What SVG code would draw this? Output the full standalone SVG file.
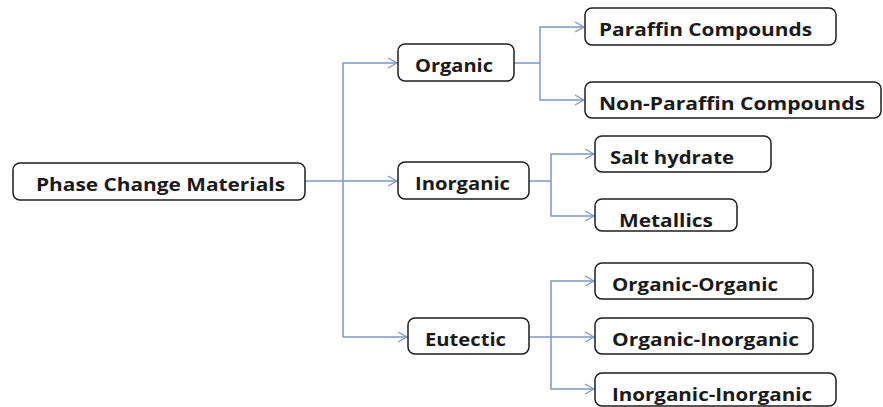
<svg xmlns="http://www.w3.org/2000/svg" width="883" height="407" viewBox="0 0 883 407">
<style>
.box{fill:#ffffff;stroke:#1e1e1e;stroke-width:1.5}
.lbl{font-family:"Open Sans","Liberation Sans",sans-serif;font-weight:bold;font-size:18px;fill:#1a1a1a}
.cn{fill:none;stroke:#7f97c4;stroke-width:1.5}
</style>
<defs>
<marker id="arr" markerUnits="userSpaceOnUse" markerWidth="12" markerHeight="14" viewBox="-1 -7 12 14" refX="9" refY="0" orient="auto">
<path d="M0,-5 L9,0 L0,5" fill="none" stroke="#7f97c4" stroke-width="1.3"/>
</marker>
</defs>
<rect width="883" height="407" fill="#ffffff"/>
<g id="connectors">
<path class="cn" d="M305,181 H397" marker-end="url(#arr)"/>
<path class="cn" d="M343,337 V63 H397" marker-end="url(#arr)"/>
<path class="cn" d="M343,337 H407" marker-end="url(#arr)"/>
<path class="cn" d="M514,63 H540"/>
<path class="cn" d="M540,63 V27 H584" marker-end="url(#arr)"/>
<path class="cn" d="M540,63 V100 H584" marker-end="url(#arr)"/>
<path class="cn" d="M529,181 H551"/>
<path class="cn" d="M551,181 V154 H594" marker-end="url(#arr)"/>
<path class="cn" d="M551,181 V216 H594" marker-end="url(#arr)"/>
<path class="cn" d="M529,337 H594" marker-end="url(#arr)"/>
<path class="cn" d="M551,337 V281 H594" marker-end="url(#arr)"/>
<path class="cn" d="M551,337 V389 H594" marker-end="url(#arr)"/>
</g>
<g id="pcm"><rect class="box" x="13" y="163" width="292" height="37" rx="7"/><text class="lbl" x="36" y="191" textLength="249" lengthAdjust="spacingAndGlyphs">Phase Change Materials</text></g>
<g id="organic"><rect class="box" x="398" y="44" width="116" height="37" rx="7"/><text class="lbl" x="415" y="72" textLength="78" lengthAdjust="spacingAndGlyphs">Organic</text></g>
<g id="inorganic"><rect class="box" x="398" y="162" width="131" height="37" rx="7"/><text class="lbl" x="415" y="190" textLength="95" lengthAdjust="spacingAndGlyphs">Inorganic</text></g>
<g id="eutectic"><rect class="box" x="408" y="318" width="121" height="36" rx="7"/><text class="lbl" x="425" y="346" textLength="81" lengthAdjust="spacingAndGlyphs">Eutectic</text></g>
<g id="paraffin"><rect class="box" x="585" y="8" width="251" height="37" rx="7"/><text class="lbl" x="599" y="36" textLength="213" lengthAdjust="spacingAndGlyphs">Paraffin Compounds</text></g>
<g id="nonparaffin"><rect class="box" x="585" y="82" width="296" height="36" rx="7"/><text class="lbl" x="599" y="110" textLength="266" lengthAdjust="spacingAndGlyphs">Non-Paraffin Compounds</text></g>
<g id="salthydrate"><rect class="box" x="595" y="136" width="176" height="36" rx="7"/><text class="lbl" x="610" y="164" textLength="124" lengthAdjust="spacingAndGlyphs">Salt hydrate</text></g>
<g id="metallics"><rect class="box" x="595" y="199" width="142" height="32" rx="7"/><text class="lbl" x="619" y="227" textLength="94" lengthAdjust="spacingAndGlyphs">Metallics</text></g>
<g id="orgorg"><rect class="box" x="595" y="263" width="218" height="36" rx="7"/><text class="lbl" x="612" y="291" textLength="166" lengthAdjust="spacingAndGlyphs">Organic-Organic</text></g>
<g id="orginorg"><rect class="box" x="595" y="318" width="218" height="36" rx="7"/><text class="lbl" x="612" y="346" textLength="187" lengthAdjust="spacingAndGlyphs">Organic-Inorganic</text></g>
<g id="inorginorg"><rect class="box" x="595" y="373" width="241" height="33" rx="7"/><text class="lbl" x="612" y="401" textLength="200" lengthAdjust="spacingAndGlyphs">Inorganic-Inorganic</text></g>
</svg>
